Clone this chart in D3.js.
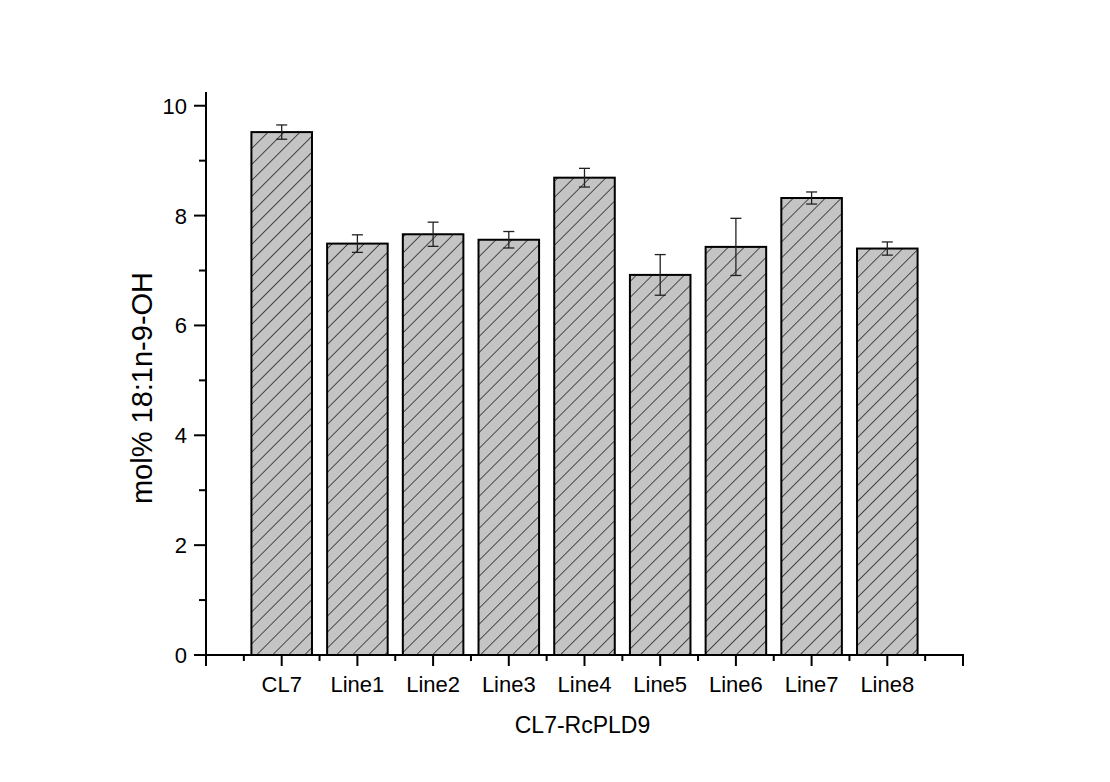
<!DOCTYPE html>
<html>
<head>
  <meta charset="UTF-8">
  <title>mol% 18:1n-9-OH</title>
  <style>
    body { margin: 0; background: #fff; }
    text { font-family: Arial, "Liberation Sans", sans-serif; fill: #000; }
  </style>
</head>
<body>
<svg></svg>
<script src="https://d3js.org/d3.v7.min.js"></script>
<script>
let width = 1110, height = 782;

// data
const categories = ["CL7", "Line1", "Line2", "Line3", "Line4", "Line5", "Line6", "Line7", "Line8"];
const values = [9.52, 7.49, 7.66, 7.56, 8.69, 6.92, 7.43, 8.32, 7.40];
const errors = [0.13, 0.16, 0.22, 0.15, 0.17, 0.37, 0.52, 0.11, 0.12];
const yTicks = [0, 2, 4, 6, 8, 10];

const svg = d3.select("svg")
    .attr("width", width)
    .attr("height", height);

const plotLeft = 206, plotRight = 963, plotBottom = 655, plotTop = 92;

// categories sit at 1..9 on a 0..10 axis
const x = d3.scaleLinear().domain([0, 10]).range([plotLeft, plotRight]);
const y = d3.scaleLinear().domain([0, 10.25]).range([plotBottom, plotTop]);

const barW = 0.8 * (x(1) - x(0));

// hatch pattern
const defs = svg.append("defs");
const pat = defs.append("pattern")
    .attr("id", "hatch")
    .attr("patternUnits", "userSpaceOnUse")
    .attr("width", 11.3)
    .attr("height", 11.3)
    .attr("patternTransform", "rotate(45)");
pat.append("rect")
    .attr("width", 11.3).attr("height", 11.3)
    .attr("fill", "#c4c4c4");
pat.append("line")
    .attr("x1", 0).attr("y1", 0).attr("x2", 0).attr("y2", 11.3)
    .attr("stroke", "#111")
    .attr("stroke-width", 1.4);

// bars
svg.append("g")
    .selectAll("rect")
    .data(values)
    .enter()
    .append("rect")
    .attr("x", (d, i) => x(i + 1) - barW / 2)
    .attr("y", d => y(d))
    .attr("width", barW)
    .attr("height", d => y(0) - y(d))
    .attr("fill", "url(#hatch)")
    .attr("stroke", "#000")
    .attr("stroke-width", 2);

// error bars
const eb = svg.append("g")
    .attr("stroke", "#222")
    .attr("stroke-width", 1.3);
values.forEach((v, i) => {
    const cx = x(i + 1), hi = y(v + errors[i]), lo = y(v - errors[i]);
    eb.append("line").attr("x1", cx).attr("x2", cx).attr("y1", hi).attr("y2", lo);
    eb.append("line").attr("x1", cx - 5.5).attr("x2", cx + 5.5).attr("y1", hi).attr("y2", hi);
    eb.append("line").attr("x1", cx - 5.5).attr("x2", cx + 5.5).attr("y1", lo).attr("y2", lo);
});

// y axis
const yAxis = svg.append("g");
yAxis.append("line")
    .attr("x1", plotLeft).attr("x2", plotLeft)
    .attr("y1", y(0) + 1).attr("y2", plotTop)
    .attr("stroke", "#000").attr("stroke-width", 2);
yAxis.selectAll(".major")
    .data(yTicks)
    .enter()
    .append("line")
    .attr("x1", plotLeft - 12).attr("x2", plotLeft)
    .attr("y1", d => y(d)).attr("y2", d => y(d))
    .attr("stroke", "#000").attr("stroke-width", 2);
yAxis.selectAll(".minor")
    .data(d3.range(1, 10, 2))
    .enter()
    .append("line")
    .attr("x1", plotLeft - 7).attr("x2", plotLeft)
    .attr("y1", d => y(d)).attr("y2", d => y(d))
    .attr("stroke", "#000").attr("stroke-width", 2);
yAxis.selectAll("text")
    .data(yTicks)
    .enter()
    .append("text")
    .attr("x", plotLeft - 19)
    .attr("y", d => y(d))
    .attr("dy", "0.36em")
    .attr("text-anchor", "end")
    .style("font-size", "22px")
    .text(d => d);

// x axis
const xAxis = svg.append("g");
xAxis.append("line")
    .attr("x1", plotLeft - 1).attr("x2", plotRight + 1)
    .attr("y1", plotBottom).attr("y2", plotBottom)
    .attr("stroke", "#000").attr("stroke-width", 2);
xAxis.selectAll(".major")
    .data(d3.range(0, 11))
    .enter()
    .append("line")
    .attr("x1", d => x(d)).attr("x2", d => x(d))
    .attr("y1", plotBottom).attr("y2", plotBottom + 11)
    .attr("stroke", "#000").attr("stroke-width", 2);
xAxis.selectAll(".minor")
    .data(d3.range(0.5, 10, 1))
    .enter()
    .append("line")
    .attr("x1", d => x(d)).attr("x2", d => x(d))
    .attr("y1", plotBottom).attr("y2", plotBottom + 6)
    .attr("stroke", "#000").attr("stroke-width", 2);
xAxis.selectAll("text")
    .data(categories)
    .enter()
    .append("text")
    .attr("x", (d, i) => x(i + 1))
    .attr("y", 692)
    .attr("text-anchor", "middle")
    .style("font-size", "22px")
    .text(d => d);

// titles
svg.append("text")
    .attr("x", (plotLeft + plotRight) / 2 - 2)
    .attr("y", 733)
    .attr("text-anchor", "middle")
    .style("font-size", "23px")
    .text("CL7-RcPLD9");

svg.append("text")
    .attr("transform", "translate(152,388) rotate(-90)")
    .attr("text-anchor", "middle")
    .style("font-size", "29px")
    .text("mol% 18:1n-9-OH");
</script>
</body>
</html>
